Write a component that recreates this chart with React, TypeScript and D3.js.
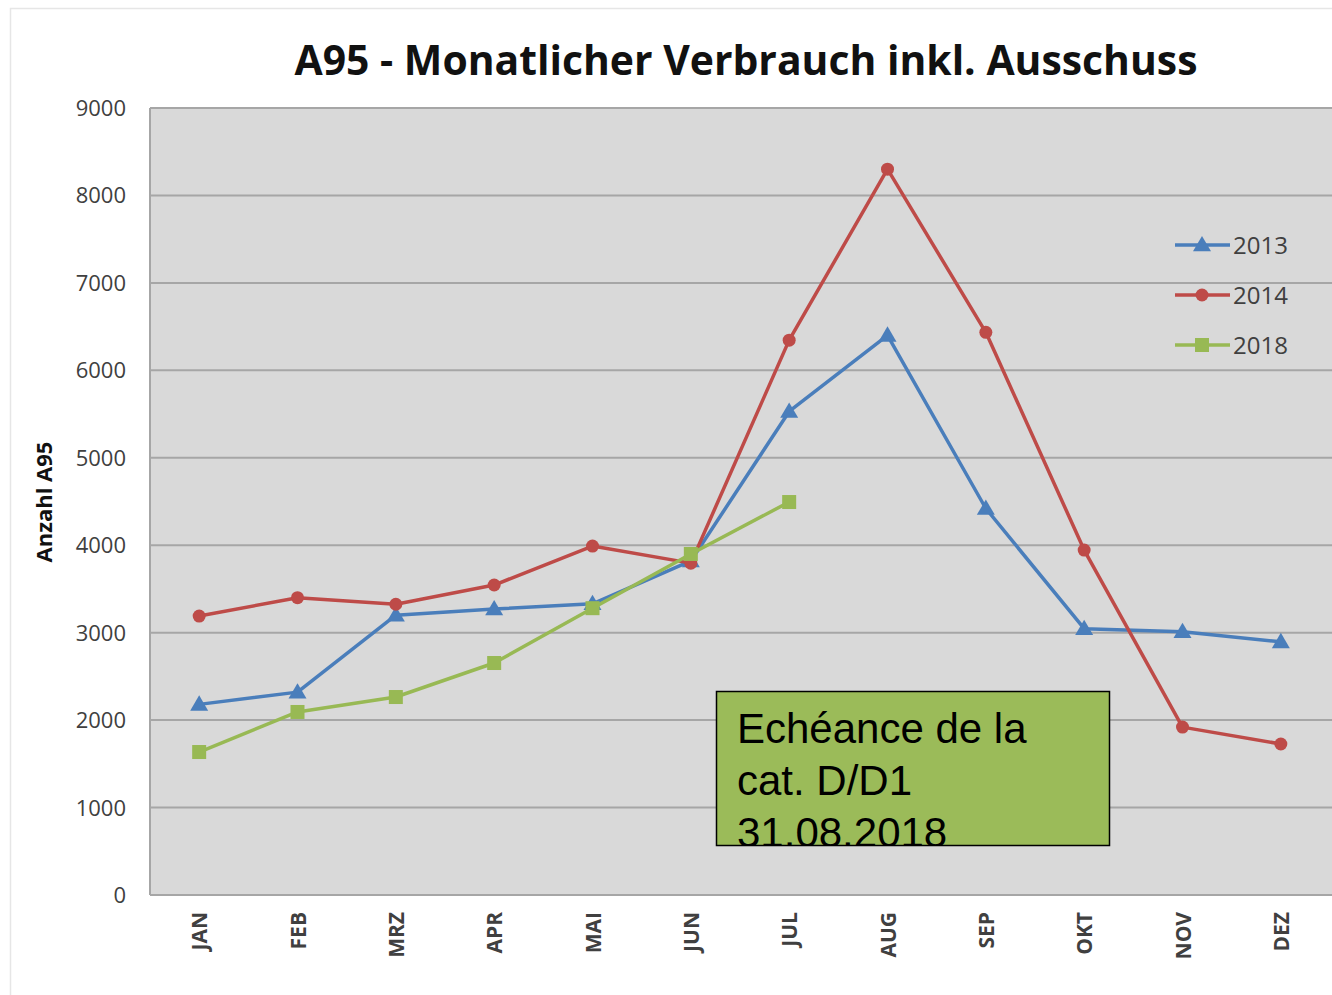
import React from "react";
import * as d3 from "d3";

const months = ["JAN", "FEB", "MRZ", "APR", "MAI", "JUN", "JUL", "AUG", "SEP", "OKT", "NOV", "DEZ"];
const values2013 = [2180, 2320, 3200, 3270, 3330, 3820, 5530, 6400, 4420, 3045, 3010, 2895];
const values2014 = [3190, 3400, 3325, 3545, 3990, 3795, 6345, 8300, 6435, 3945, 1920, 1727];
const values2018 = [1635, 2093, 2264, 2653, 3280, 3900, 4494];
const yTicks = [0, 1000, 2000, 3000, 4000, 5000, 6000, 7000, 8000, 9000];
const seriesNames = ["2013", "2014", "2018"];
const noteLines = ["Echéance de la", "cat. D/D1", "31.08.2018"];

const W = 1332, H = 995;
const left = 150, right = 1330, top = 108, bottom = 895;

export default function App() {
  const x = d3.scaleBand<string>().domain(months).range([left, right]);
  const y = d3.scaleLinear().domain([0, 9000]).range([bottom, top]);
  const cx = (m: string) => (x(m) as number) + x.bandwidth() / 2;
  const line = d3.line<number>().x((_, i) => cx(months[i])).y((v) => y(v));

  const colors = ["#4a7ebb", "#be4b48", "#98b954"];
  const data = [values2013, values2014, values2018];

  const marker = (k: number, px: number, py: number, key: string) => {
    if (k === 0) {
      const s = 9;
      return <path key={key} d={`M${px},${py - s} L${px + s},${py + s * 0.7} L${px - s},${py + s * 0.7} Z`} fill={colors[0]} />;
    }
    if (k === 1) return <circle key={key} cx={px} cy={py} r={6.5} fill={colors[1]} />;
    return <rect key={key} x={px - 7} y={py - 7} width={14} height={14} fill={colors[2]} />;
  };

  return (
    <svg width={W} height={H} style={{ position: "absolute", left: 0, top: 0 }}>
      <rect x={0} y={0} width={W} height={H} fill="#ffffff" />
      <rect x={10.5} y={8.5} width={W} height={H} fill="#ffffff" stroke="#e6e6e6" strokeWidth={1.5} />
      <text x={746} y={75} textAnchor="middle" fontFamily="Open Sans" fontWeight="bold" fontSize={41} fill="#111" textLength={903} lengthAdjust="spacingAndGlyphs">
        A95 - Monatlicher Verbrauch inkl. Ausschuss
      </text>
      <rect x={left} y={top} width={right - left + 2} height={bottom - top} fill="#d9d9d9" />
      {yTicks.map((t) => (
        <g key={t}>
          {t > 0 && <line x1={left} x2={right + 2} y1={y(t)} y2={y(t)} stroke="#a6a6a6" strokeWidth={2} />}
          <text x={126} y={y(t) + 8} textAnchor="end" fontFamily="Open Sans" fontSize={22} fill="#404040">{t}</text>
        </g>
      ))}
      <line x1={left} x2={left} y1={top} y2={bottom} stroke="#a6a6a6" strokeWidth={2} />
      <line x1={left} x2={right + 2} y1={bottom} y2={bottom} stroke="#a6a6a6" strokeWidth={2} />
      {months.map((m) => (
        <text key={m} transform={`translate(${cx(m) + 8},${912}) rotate(-90)`} textAnchor="end" fontFamily="Open Sans" fontWeight="bold" fontSize={21} fill="#404040">{m}</text>
      ))}
      <text transform={`translate(52,502) rotate(-90)`} textAnchor="middle" fontFamily="Open Sans" fontWeight="bold" fontSize={22} fill="#111">Anzahl A95</text>
      {data.map((vals, k) => (
        <g key={k}>
          <path d={line(vals) as string} fill="none" stroke={colors[k]} strokeWidth={3.5} strokeLinejoin="round" />
          {vals.map((v, i) => marker(k, cx(months[i]), y(v), `${k}-${i}`))}
        </g>
      ))}
      {seriesNames.map((s, k) => {
        const ly = 245 + k * 50;
        return (
          <g key={s}>
            <line x1={1175} x2={1230} y1={ly} y2={ly} stroke={colors[k]} strokeWidth={3.5} />
            {marker(k, 1202, ly, `l${k}`)}
            <text x={1233} y={ly + 9} fontFamily="Open Sans" fontSize={24} fill="#404040">{s}</text>
          </g>
        );
      })}
      <defs>
        <clipPath id="noteclip"><rect x={716} y={691} width={394} height={155} /></clipPath>
      </defs>
      <rect x={716.5} y={691.5} width={393} height={154} fill="#9bbb59" stroke="#000" strokeWidth={1.5} />
      <g clipPath="url(#noteclip)">
        {noteLines.map((t, i) => (
          <text key={i} x={737} y={743 + i * 52} fontFamily="Liberation Sans" fontSize={42} fill="#000">{t}</text>
        ))}
      </g>
    </svg>
  );
}
